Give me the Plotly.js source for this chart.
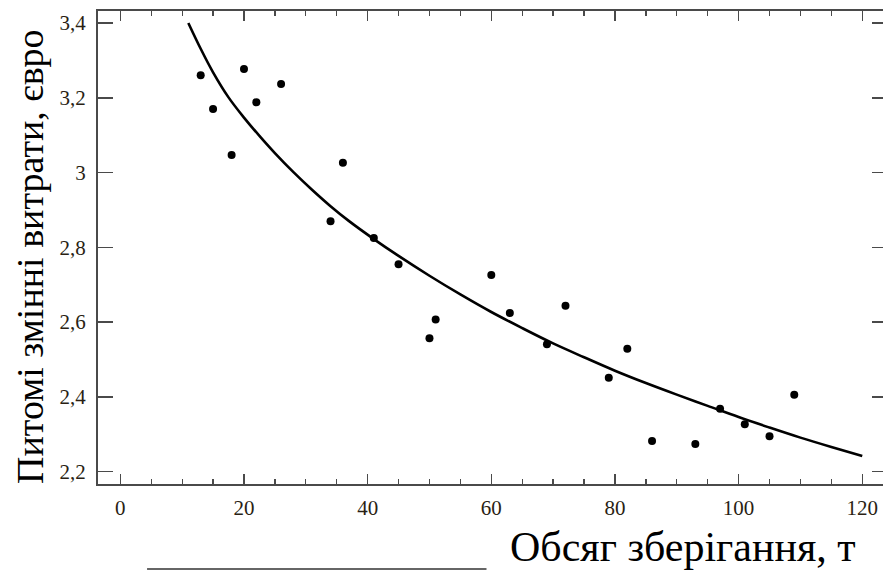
<!DOCTYPE html>
<html>
<head>
<meta charset="utf-8">
<script src="https://cdn.plot.ly/plotly-3.0.1.min.js"></script>
<style>
html, body { margin: 0; padding: 0; overflow: hidden; background: #fff; }
#chart { width: 887px; height: 570px; }
</style>
</head>
<body>
<div id="chart"></div>
<script>
// Observed points: storage volume (t) and specific variable costs (EUR)
const obsVolume = [13, 15, 18, 20, 22, 26, 34, 36, 41, 45, 50, 51, 60, 63, 69, 72, 79, 82, 86, 93, 97, 101, 105, 109];
const obsCost   = [3.26, 3.17, 3.047, 3.277, 3.188, 3.237, 2.870, 3.026, 2.825, 2.755, 2.557, 2.607, 2.726, 2.624, 2.541, 2.644, 2.451, 2.529, 2.282, 2.274, 2.368, 2.327, 2.295, 2.406];

// Fitted trend curve
const fitVolume = [11, 13, 15, 17.5, 20, 22.5, 25, 28, 31, 34, 37, 41, 45, 50, 55, 60, 65, 70, 75, 80, 85, 90, 95, 100, 105, 110, 115, 120];
const fitCost   = [3.400, 3.331, 3.268, 3.201, 3.147, 3.098, 3.052, 3.001, 2.954, 2.910, 2.870, 2.822, 2.777, 2.724, 2.674, 2.627, 2.584, 2.543, 2.506, 2.470, 2.437, 2.406, 2.376, 2.346, 2.318, 2.291, 2.266, 2.242];

// Axis ticks
const xTickVals = [0, 20, 40, 60, 80, 100, 120];
const xTickText = ["0", "20", "40", "60", "80", "100", "120"];
const yTickVals = [2.2, 2.4, 2.6, 2.8, 3.0, 3.2, 3.4];
const yTickText = ["2,2", "2,4", "2,6", "2,8", "3", "3,2", "3,4"];

const yTitle = "Питомі змінні витрати, євро";
const xTitle = "Обсяг зберігання, т";

const serif = '"Liberation Serif", "DejaVu Serif", serif';
const axisColor = '#4a4a4a';

const traces = [
  {
    x: fitVolume, y: fitCost, type: 'scatter', mode: 'lines',
    line: { color: '#000', width: 2.6, shape: 'spline', smoothing: 1 },
    hoverinfo: 'skip', showlegend: false
  },
  {
    x: obsVolume, y: obsCost, type: 'scatter', mode: 'markers',
    marker: { color: '#000', size: 8 },
    showlegend: false
  }
];

const layout = {
  width: 887, height: 570,
  margin: { l: 98, r: 0, t: 11, b: 86, pad: 0 },
  paper_bgcolor: '#fff', plot_bgcolor: '#fff',
  showlegend: false,
  font: { family: serif, color: '#000' },
  xaxis: {
    range: [-3.61, 124.0],
    tickmode: 'array', tickvals: xTickVals, ticktext: xTickText,
    ticks: 'inside', ticklen: 10, tickwidth: 1.3, tickcolor: axisColor,
    minor: { dtick: 5, tick0: 0, ticks: 'inside', ticklen: 5, tickwidth: 1.3, tickcolor: axisColor, showgrid: false },
    showline: true, linecolor: axisColor, linewidth: 2, mirror: 'ticks',
    showgrid: false, zeroline: false,
    tickfont: { family: serif, size: 21, color: '#2a1f14' },
    ticklabelstandoff: 4
  },
  yaxis: {
    range: [2.167, 3.432],
    tickmode: 'array', tickvals: yTickVals, ticktext: yTickText,
    ticks: 'inside', ticklen: 15, tickwidth: 1.5, tickcolor: axisColor,
    showline: true, linecolor: axisColor, linewidth: 2, mirror: 'ticks',
    showgrid: false, zeroline: false,
    tickfont: { family: serif, size: 21, color: '#2a1f14' },
    ticklabelstandoff: 6
  },
  annotations: [
    {
      text: yTitle, xref: 'paper', yref: 'paper',
      x: (30 - 98) / 788, y: (484 - 256) / 473,
      xanchor: 'center', yanchor: 'middle', textangle: -90, showarrow: false,
      font: { family: serif, size: 38, color: '#000' }
    },
    {
      text: xTitle, xref: 'paper', yref: 'paper',
      x: (682 - 98) / 788, y: (484 - 547) / 473,
      xanchor: 'center', yanchor: 'middle', showarrow: false,
      font: { family: serif, size: 42, color: '#000' }
    }
  ],
  shapes: [
    {
      type: 'line', xref: 'paper', yref: 'paper',
      x0: (147 - 98) / 788, x1: (486 - 98) / 788,
      y0: (484 - 569) / 473, y1: (484 - 569) / 473,
      line: { color: '#333', width: 1.3 }
    }
  ]
};

Plotly.newPlot('chart', traces, layout, { displayModeBar: false, staticPlot: true });
</script>
</body>
</html>
